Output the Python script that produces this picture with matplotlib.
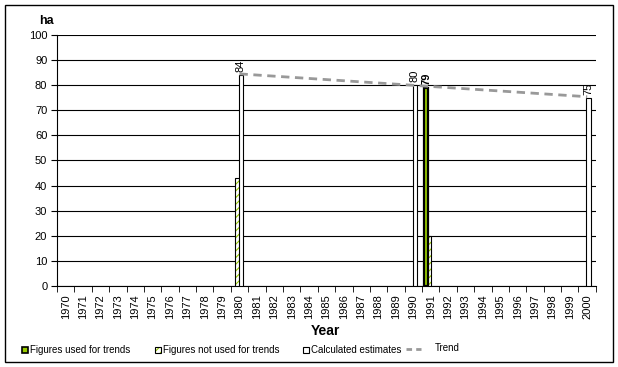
import numpy as np
import matplotlib
matplotlib.use("Agg")
import matplotlib.pyplot as plt
from matplotlib.patches import Rectangle
from matplotlib.lines import Line2D

plt.rcParams['font.family'] = ['Liberation Sans', 'DejaVu Sans']
plt.rcParams['hatch.linewidth'] = 0.8

years = list(range(1970, 2001))

# area in ha per year
used = {1991: 79}                      # figures used for trends
not_used = {1980: 43, 1991: 20}        # figures not used for trends
estimates = {1980: 84, 1990: 80, 2000: 75}  # calculated estimates
labels_est = {1980: "84", 1990: "80", 2000: "75"}
labels_used = {1991: "79"}

trend_years = [1980, 2000]
trend_vals = [84.5, 75.4]

green = "#99CC00"

fig = plt.figure(figsize=(6.18, 3.67), dpi=100)
ax = fig.add_axes([0.0922, 0.2207, 0.872, 0.684])

w = 0.25
idx = {y: i for i, y in enumerate(years)}

# figures not used (hatched)
for y, v in not_used.items():
    ax.bar(idx[y] - 0.12, v, w, color="white", edgecolor=green, hatch="/////",
           linewidth=0, zorder=3)
    ax.bar(idx[y] - 0.12, v, w, fill=False, edgecolor="black", linewidth=0.8, zorder=3)

# calculated estimates
for y, v in estimates.items():
    ax.bar(idx[y] + 0.08, v, w, color="white", edgecolor="black", linewidth=0.8, zorder=3)
    ax.annotate(labels_est[y], (idx[y] + 0.08, v), xytext=(0, 2), textcoords="offset points",
                rotation=90, ha="center", va="bottom", fontsize=8)

# figures used
for y, v in used.items():
    ax.bar(idx[y] - 0.26, v, w, color=green, edgecolor="black", linewidth=1.6, zorder=4)
    ax.annotate(labels_used[y], (idx[y] - 0.26, v), xytext=(0, 2), textcoords="offset points",
                rotation=90, ha="center", va="bottom", fontsize=8, fontweight="bold")

ax.plot([idx[y] for y in trend_years], trend_vals, color="#999999", lw=2,
        ls=(0, (3, 2)), zorder=5)

ax.set_xlim(-0.5, len(years) - 0.5)
ax.set_ylim(0, 100)
ax.set_yticks(range(0, 101, 10))
ax.yaxis.grid(True, color="black", lw=0.8)
ax.set_axisbelow(True)
ax.tick_params(axis="y", direction="out", length=4, labelsize=8, pad=3)

ax.set_xticks(range(len(years)))
ax.set_xticklabels([str(y) for y in years], rotation=90, fontsize=8)
ax.set_xticks(np.arange(-0.5, len(years)), minor=True)
ax.tick_params(axis="x", which="major", length=0, pad=6)
ax.tick_params(axis="x", which="minor", direction="out", length=4)

for s in ["top", "right"]:
    ax.spines[s].set_visible(False)
ax.spines["left"].set_linewidth(0.8)
ax.spines["bottom"].set_linewidth(0.8)

fig.text(0.075, 0.942, "ha", fontsize=9, fontweight="bold", ha="center", va="center")
fig.text(0.527, 0.098, "Year", fontsize=10, fontweight="bold", ha="center", va="center")

# outer border
fig.add_artist(Rectangle((5 / 618, 5 / 367), 608 / 618, 357 / 367, transform=fig.transFigure,
                         fill=False, edgecolor="black", lw=1))

# legend
ly = 1 - 350 / 367
bw, bh = 6 / 618, 6 / 367
def legend_box(x, face, hatch=None, lw=0.8):
    if hatch:
        fig.add_artist(Rectangle((x, ly - bh / 2), bw, bh, transform=fig.transFigure,
                                 facecolor="white", edgecolor=green, hatch=hatch, lw=0))
        fig.add_artist(Rectangle((x, ly - bh / 2), bw, bh, transform=fig.transFigure,
                                 fill=False, edgecolor="black", lw=lw))
    else:
        fig.add_artist(Rectangle((x, ly - bh / 2), bw, bh, transform=fig.transFigure,
                                 facecolor=face, edgecolor="black", lw=lw))

legend_box(22 / 618, green, lw=1.2)
fig.text(30 / 618, ly, "Figures used for trends", fontsize=7, va="center")
legend_box(155 / 618, "white", hatch="/////")
fig.text(163 / 618, ly, "Figures not used for trends", fontsize=7, va="center")
legend_box(303 / 618, "white")
fig.text(311 / 618, ly, "Calculated estimates", fontsize=7, va="center")
fig.add_artist(Line2D([406 / 618, 421 / 618], [ly + 1 / 367, ly + 1 / 367], transform=fig.transFigure,
                      color="#999999", lw=2, ls=(0, (2, 1.5))))
fig.text(435 / 618, ly + 2 / 367, "Trend", fontsize=7, va="center")

fig.savefig("out.png", dpi=100)
